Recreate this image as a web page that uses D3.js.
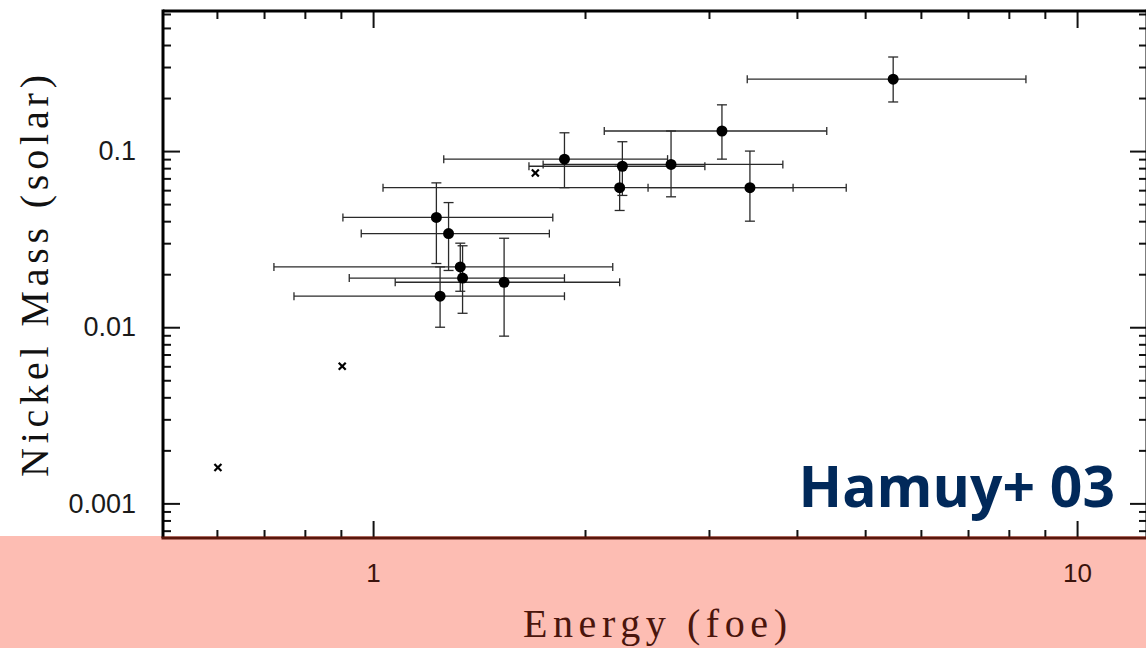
<!DOCTYPE html>
<html>
<head>
<meta charset="utf-8">
<script src="https://cdn.jsdelivr.net/npm/d3@7"></script>
<style>
  body { margin: 0; background: #fff; }
  svg { display: block; }
</style>
</head>
<body>
<svg width="1146" height="648"></svg>
<script>
// --- data (energy in foe, nickel mass in solar masses) ---
const energy   = [5.48, 3.13, 1.87, 2.26, 2.65, 2.24, 3.43, 1.23, 1.28, 1.33, 1.34, 1.535, 1.245];
const energyLo = [3.40, 2.13, 1.26, 1.665, 1.744, 1.033, 2.458, 0.906, 0.962, 0.723, 0.925, 1.075, 0.772];
const energyHi = [8.46, 4.41, 2.62, 2.96, 3.82, 3.95, 4.70, 1.80, 1.78, 2.19, 1.87, 2.24, 1.87];
const nickel   = [0.256, 0.130, 0.090, 0.082, 0.084, 0.062, 0.062, 0.042, 0.034, 0.022, 0.019, 0.018, 0.015];
const nickelLo = [0.190, 0.090, 0.062, 0.056, 0.055, 0.046, 0.040, 0.023, 0.021, 0.016, 0.012, 0.0089, 0.010];
const nickelHi = [0.342, 0.183, 0.127, 0.113, 0.130, 0.082, 0.100, 0.066, 0.051, 0.030, 0.029, 0.032, 0.022];

// points drawn as crosses, no error bars
const crossEnergy = [1.70, 0.904, 0.602];
const crossNickel = [0.075, 0.0060, 0.0016];

const xTickLabels = [1, 10];
const yTickLabels = [0.001, 0.01, 0.1];
const yTickText = ["0.001", "0.01", "0.1"];

// -------------------------
// Layout
// -------------------------
const svg = d3.select("svg");
const plotLeft = 163, plotRight = 1147, plotTop = 11, plotBottom = 538;

const x = d3.scaleLog().domain([0.503, 12.57]).range([plotLeft, plotRight]);
const y = d3.scaleLog().domain([0.000636, 0.624]).range([plotBottom, plotTop]);

// pink band behind the x axis
svg.append("rect")
  .attr("x", 0).attr("y", 536)
  .attr("width", 1146).attr("height", 112)
  .attr("fill", "#fdbdb3");

// minor tick values for each decade inside the domain
function minorTicks(scale) {
  const [a, b] = scale.domain();
  const out = [];
  for (let e = Math.floor(Math.log10(a)); e <= Math.ceil(Math.log10(b)); e++) {
    for (let k = 2; k <= 9; k++) {
      const v = k * Math.pow(10, e);
      if (v > a && v < b) out.push(v);
    }
  }
  return out;
}
const xMinor = minorTicks(x);
const yMinor = minorTicks(y);

function tickGroup(g) {
  g.select(".domain").remove();
  g.selectAll(".tick line").attr("stroke", "#111").attr("stroke-width", 2);
}

// --- Left axis (labels) ---
svg.append("g")
  .attr("transform", `translate(${plotLeft},0)`)
  .call(d3.axisLeft(y).tickValues(yTickLabels).tickSize(-17).tickPadding(27)
    .tickFormat((d, i) => yTickText[i]))
  .call(tickGroup)
  .call(g => g.selectAll("text")
    .attr("font-family", "Liberation Sans, Arial, sans-serif")
    .attr("font-size", 27).attr("fill", "#1a1a1a"));
svg.append("g")
  .attr("transform", `translate(${plotLeft},0)`)
  .call(d3.axisLeft(y).tickValues(yMinor).tickSize(-8).tickFormat(""))
  .call(tickGroup);

// --- Right axis (no labels) ---
svg.append("g")
  .attr("transform", `translate(${plotRight},0)`)
  .call(d3.axisRight(y).tickValues(yTickLabels).tickSize(-17).tickFormat(""))
  .call(tickGroup);
svg.append("g")
  .attr("transform", `translate(${plotRight},0)`)
  .call(d3.axisRight(y).tickValues(yMinor).tickSize(-8).tickFormat(""))
  .call(tickGroup);

// --- Top axis ---
svg.append("g")
  .attr("transform", `translate(0,${plotTop})`)
  .call(d3.axisTop(x).tickValues(xTickLabels).tickSize(-17).tickFormat(""))
  .call(tickGroup);
svg.append("g")
  .attr("transform", `translate(0,${plotTop})`)
  .call(d3.axisTop(x).tickValues(xMinor).tickSize(-8).tickFormat(""))
  .call(tickGroup);

// --- Bottom axis (labels) ---
svg.append("g")
  .attr("transform", `translate(0,${plotBottom})`)
  .call(d3.axisBottom(x).tickValues(xTickLabels).tickSize(-17).tickPadding(26)
    .tickFormat(d3.format("d")))
  .call(tickGroup)
  .call(g => g.selectAll("text")
    .attr("font-family", "Liberation Sans, Arial, sans-serif")
    .attr("font-size", 26).attr("fill", "#3b140c"));
svg.append("g")
  .attr("transform", `translate(0,${plotBottom})`)
  .call(d3.axisBottom(x).tickValues(xMinor).tickSize(-8).tickFormat(""))
  .call(tickGroup);

// --- Spines ---
svg.append("line").attr("x1", plotLeft).attr("x2", plotRight).attr("y1", plotTop).attr("y2", plotTop)
  .attr("stroke", "#000").attr("stroke-width", 3);
svg.append("line").attr("x1", plotLeft).attr("x2", plotLeft).attr("y1", plotTop - 1.5).attr("y2", plotBottom)
  .attr("stroke", "#000").attr("stroke-width", 3);
svg.append("line").attr("x1", plotRight).attr("x2", plotRight).attr("y1", plotTop - 1.5).attr("y2", plotBottom)
  .attr("stroke", "#000").attr("stroke-width", 3);
svg.append("line").attr("x1", plotLeft - 1.5).attr("x2", plotRight).attr("y1", plotBottom).attr("y2", plotBottom)
  .attr("stroke", "#5a170c").attr("stroke-width", 3);

// -------------------------
// Error bars & points
// -------------------------
const idx = d3.range(energy.length);
const bars = svg.append("g")
  .attr("stroke", "#2a2a2a")
  .attr("stroke-width", 1.3)
  .attr("fill", "none");

idx.forEach(i => {
  const cx = x(energy[i]), cy = y(nickel[i]);
  const xl = x(energyLo[i]), xh = x(energyHi[i]);
  const yl = y(nickelLo[i]), yh = y(nickelHi[i]);
  bars.append("line").attr("x1", xl).attr("x2", xh).attr("y1", cy).attr("y2", cy);
  bars.append("line").attr("x1", xl).attr("x2", xl).attr("y1", cy - 4).attr("y2", cy + 4);
  bars.append("line").attr("x1", xh).attr("x2", xh).attr("y1", cy - 4).attr("y2", cy + 4);
  bars.append("line").attr("x1", cx).attr("x2", cx).attr("y1", yl).attr("y2", yh);
  bars.append("line").attr("x1", cx - 5).attr("x2", cx + 5).attr("y1", yl).attr("y2", yl);
  bars.append("line").attr("x1", cx - 5).attr("x2", cx + 5).attr("y1", yh).attr("y2", yh);
});

svg.append("g")
  .selectAll("circle")
  .data(idx)
  .enter()
  .append("circle")
  .attr("cx", i => x(energy[i]))
  .attr("cy", i => y(nickel[i]))
  .attr("r", 5.5)
  .attr("fill", "#000");

const crosses = svg.append("g").attr("stroke", "#000").attr("stroke-width", 2.2);
crossEnergy.forEach((e, i) => {
  const cx = x(e), cy = y(crossNickel[i]), s = 3.5;
  crosses.append("line").attr("x1", cx - s).attr("x2", cx + s).attr("y1", cy - s).attr("y2", cy + s);
  crosses.append("line").attr("x1", cx - s).attr("x2", cx + s).attr("y1", cy + s).attr("y2", cy - s);
});

// -------------------------
// Labels
// -------------------------
svg.append("text")
  .attr("x", 655).attr("y", 637)
  .attr("text-anchor", "middle")
  .attr("font-family", "Liberation Serif, Times New Roman, serif")
  .attr("font-size", 40)
  .attr("fill", "#4a150c")
  .attr("textLength", 264)
  .attr("lengthAdjust", "spacing")
  .text("Energy (foe)");

svg.append("text")
  .attr("transform", "translate(48,276) rotate(-90)")
  .attr("text-anchor", "middle")
  .attr("font-family", "Liberation Serif, Times New Roman, serif")
  .attr("font-size", 40)
  .attr("fill", "#111")
  .attr("textLength", 402)
  .attr("lengthAdjust", "spacing")
  .text("Nickel Mass (solar)");

svg.append("text")
  .attr("x", 1115).attr("y", 507)
  .attr("text-anchor", "end")
  .attr("font-family", "Open Sans, Noto Sans, sans-serif")
  .attr("font-weight", 700)
  .attr("font-size", 57)
  .attr("fill", "#01295a")
  .text("Hamuy+ 03");
</script>
</body>
</html>
